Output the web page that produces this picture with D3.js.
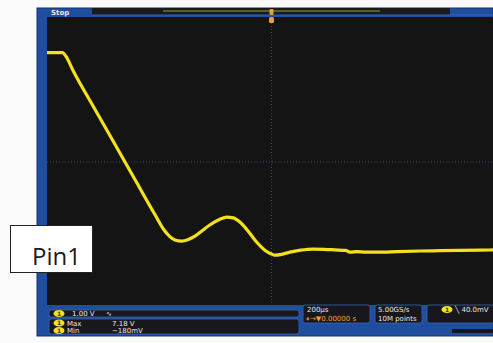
<!DOCTYPE html>
<html>
<head>
<meta charset="utf-8">
<script src="https://cdn.jsdelivr.net/npm/d3@7"></script>
<style>
  body { margin: 0; background: #fafafa; }
  svg { display: block; }
  .info { font-family: "DejaVu Sans", sans-serif; font-size: 7px; fill: #e8e8e8; }
</style>
</head>
<body>
<svg id="chart" width="493" height="343"></svg>
<script>
// trace of channel 1, time in µs (trigger at 0), volts
const timeUs = [-1000, -930, -918, -880, -800, -707, -600, -520, -480, -455, -430, -400, -370, -341, -305, -275, -230, -199, -170, -141, -110, -74, -45, -25, 0, 15, 45, 82, 130, 184, 235, 282, 330, 350, 380, 420, 482, 560, 661, 750, 839, 930, 1000];
const volts  = [7.18, 7.18, 7.08, 6.47, 5.32, 4.00, 2.47, 1.33, 0.78, 0.54, 0.40, 0.36, 0.42, 0.54, 0.76, 0.94, 1.15, 1.23, 1.20, 1.05, 0.78, 0.40, 0.14, 0.00, -0.11, -0.15, -0.12, -0.04, 0.03, 0.07, 0.06, 0.04, 0.02, -0.04, -0.02, -0.04, -0.04, -0.02, 0.00, 0.01, 0.02, 0.03, 0.04];

const chScale = "1.00 V";
const measLabels = ["Max", "Min"];
const measValues = ["7.18 V", "\u2212180mV"];
const timebase = ["200\u00b5s", "\u23f8\u2192\u25bc0.00000 s"];
const acq = ["5.00GS/s", "10M points"];
const trig = "\u2572  40.0mV";

const svg = d3.select("#chart");

const blue = "#1f4e9e";
const plot = { left: 47, top: 17, right: 493, bottom: 305 };

// frame
svg.append("rect").attr("x", 37).attr("y", 8).attr("width", 456).attr("height", 328).attr("fill", blue);
svg.append("rect").attr("x", 37).attr("y", 8).attr("width", 456).attr("height", 328)
  .attr("fill", "none").attr("stroke", "#14306a").attr("stroke-width", 1);

// top status bar
svg.append("rect").attr("x", 92).attr("y", 8).attr("width", 358).attr("height", 7).attr("fill", "#1b1b1e");
svg.append("line").attr("x1", 163).attr("x2", 380).attr("y1", 11).attr("y2", 11)
  .attr("stroke", "#5f7d3c").attr("stroke-width", 1.5);
svg.append("line").attr("x1", 92).attr("x2", 493).attr("y1", 15).attr("y2", 15)
  .attr("stroke", "#2d62c0").attr("stroke-width", 1);
svg.append("text").attr("class", "info").attr("x", 51).attr("y", 15).attr("font-weight", "bold").text("Stop");

// screen
svg.append("rect").attr("x", plot.left).attr("y", plot.top)
  .attr("width", plot.right - plot.left).attr("height", plot.bottom - plot.top).attr("fill", "#141414");

const x = d3.scaleLinear().domain([-1000, 1000]).range([47, 496]);
const y = d3.scaleLinear().domain([0, 7.18]).range([251, 52.7]);

// center graticule
svg.append("line").attr("x1", x(0)).attr("x2", x(0)).attr("y1", plot.top).attr("y2", plot.bottom)
  .attr("stroke", "#34466a").attr("stroke-dasharray", "1,2");
svg.append("line").attr("x1", plot.left).attr("x2", plot.right).attr("y1", 162).attr("y2", 162)
  .attr("stroke", "#34466a").attr("stroke-dasharray", "1,2");

// trigger marker
svg.append("rect").attr("x", x(0) - 2).attr("y", 9).attr("width", 4).attr("height", 6).attr("rx", 1).attr("fill", "#e8a13a");
svg.append("rect").attr("x", x(0) - 2.5).attr("y", 17).attr("width", 5).attr("height", 6).attr("rx", 1.5).attr("fill", "#e8a13a");

// trace
const pts = timeUs.map((t, i) => [t, volts[i]]);
const line = d3.line().x(d => x(d[0])).y(d => y(d[1])).curve(d3.curveMonotoneX);
svg.append("path").datum(pts).attr("d", line)
  .attr("fill", "none").attr("stroke", "#f3e11c").attr("stroke-width", 3.2)
  .attr("stroke-linejoin", "round");

// bottom panel boxes
const box = (bx, by, bw, bh) => svg.append("rect").attr("x", bx).attr("y", by).attr("width", bw).attr("height", bh)
  .attr("rx", 2).attr("fill", "#18181c").attr("stroke", "#3a66b8").attr("stroke-width", 0.8);
box(49, 310, 250, 7);
box(49, 319, 250, 15);
box(303, 305, 67, 18);
box(375, 305, 47, 18);
box(427, 305, 70, 18);
svg.append("rect").attr("x", 452).attr("y", 329).attr("width", 41).attr("height", 4).attr("fill", "#18181c");

const badge = (cx, cy) => {
  svg.append("ellipse").attr("cx", cx).attr("cy", cy).attr("rx", 5.5).attr("ry", 3.6).attr("fill", "#f3e11c");
  svg.append("text").attr("x", cx).attr("y", cy + 2.3).attr("text-anchor", "middle")
    .attr("font-family", "DejaVu Sans").attr("font-size", 6).attr("font-weight", "bold").attr("fill", "#333").text("1");
};
badge(59, 313.5);
badge(59, 323);
badge(59, 330.5);
badge(447, 309.5);

svg.append("text").attr("class", "info").attr("x", 72).attr("y", 316).text(chScale);
svg.append("text").attr("class", "info").attr("x", 106).attr("y", 316).text("\u223f");
measLabels.forEach((m, i) => {
  svg.append("text").attr("class", "info").attr("x", 67).attr("y", 325.5 + i * 7.5).text(m);
  svg.append("text").attr("class", "info").attr("x", 112).attr("y", 325.5 + i * 7.5).text(measValues[i]);
});
svg.append("text").attr("class", "info").attr("x", 307).attr("y", 312).text(timebase[0]);
svg.append("text").attr("class", "info").attr("x", 306).attr("y", 320.5)
  .style("fill", "#f0a030").text(timebase[1]);
svg.append("text").attr("class", "info").attr("x", 378).attr("y", 312).text(acq[0]);
svg.append("text").attr("class", "info").attr("x", 378).attr("y", 320.5).text(acq[1]);
svg.append("text").attr("class", "info").attr("x", 455).attr("y", 312).text(trig);

// label box
svg.append("rect").attr("x", 10.5).attr("y", 225.5).attr("width", 82).attr("height", 47)
  .attr("fill", "#ffffff").attr("stroke", "#222").attr("stroke-width", 1);
svg.append("text").attr("x", 32).attr("y", 265).attr("font-family", "Open Sans, sans-serif")
  .attr("font-size", 24).attr("fill", "#1a1a1a").text("Pin1");
</script>
</body>
</html>
